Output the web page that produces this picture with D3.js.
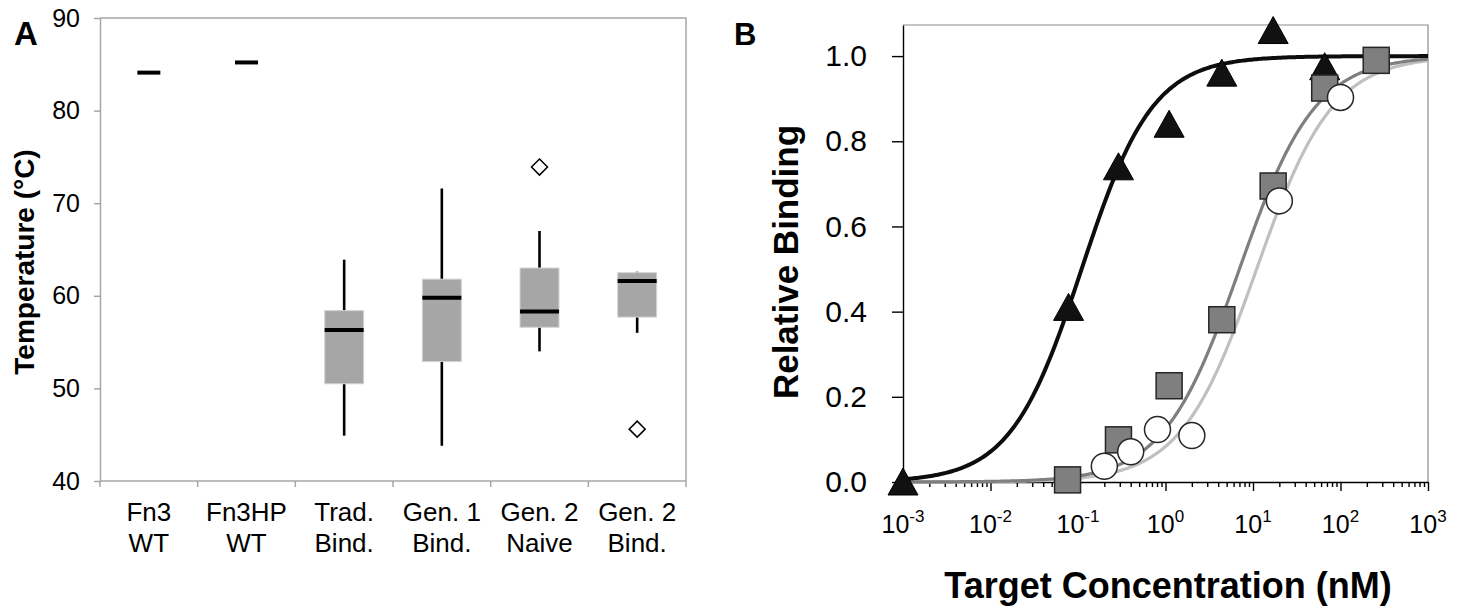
<!doctype html>
<meta charset="utf-8">
<title>Fn3 stability and binding</title>
<script src="https://cdn.jsdelivr.net/npm/d3@7"></script>
<style>
  body { margin: 0; background: #fff; }
  text { font-family: "Liberation Sans", Arial, sans-serif; fill: #000; }
</style>
<svg id="fig" width="1463" height="607"></svg>
<script>
  // ---- panel A: melting temperatures (box plots) ----
  const groups = [['Fn3', 'WT'], ['Fn3HP', 'WT'], ['Trad.', 'Bind.'], ['Gen. 1', 'Bind.'], ['Gen. 2', 'Naive'], ['Gen. 2', 'Bind.']]
  const whiskerLow = [null, null, 44.9, 43.8, 54.0, 56.0]
  const boxLow = [null, null, 50.5, 52.9, 56.6, 57.7]
  const medians = [84.1, 85.2, 56.3, 59.8, 58.3, 61.6]
  const boxHigh = [null, null, 58.4, 61.8, 63.0, 62.5]
  const whiskerHigh = [null, null, 63.9, 71.6, 67.0, 62.6]
  const outliers = [[], [], [], [], [73.9], [45.6]]
  const tempTicks = [40, 50, 60, 70, 80, 90]

  // ---- panel B: binding titration ----
  const triConc = [0.001, 0.078, 0.29, 1.1, 4.4, 17, 66]
  const triBind = [0.0, 0.41, 0.74, 0.84, 0.96, 1.06, 0.975]
  const sqConc = [0.076, 0.29, 1.1, 4.4, 17, 66, 256]
  const sqBind = [0.005, 0.099, 0.226, 0.381, 0.695, 0.925, 0.99]
  const circConc = [0.2, 0.4, 0.81, 2.0, 20, 100]
  const circBind = [0.037, 0.071, 0.123, 0.109, 0.66, 0.903]
  // fitted Hill curves: light gray, dark gray, black
  const fitK = [11, 7.0, 0.11]
  const fitN = [1.0, 1.0, 1.07]
  const fitColor = ['#c0c0c0', '#7f7f7f', '#0d0d0d']
  const bindTicks = [0, 0.2, 0.4, 0.6, 0.8, 1.0]
  const decades = [1e-3, 1e-2, 1e-1, 1e0, 1e1, 1e2, 1e3]

  const svg = d3.select('#fig')
  const axisGray = '#a6a6a6'

  // drop the font defaults d3.axis puts on its group (keep fill=none)
  function plain(g) {
    g.attr('font-family', null).attr('font-size', null)
  }

  // ===== panel A =====
  const xA = d3.scaleBand().domain(d3.range(groups.length)).range([100, 686])
  const yA = d3.scaleLinear().domain([40, 90]).range([481, 18])
  const A = svg.append('g')
  const bw = xA.bandwidth()
  const [ax0, ax1] = xA.range()

  // top / right frame
  A.append('path')
    .attr('d', `M${ax0},${yA(90)}H${ax1}V${yA(40)}`)
    .attr('fill', 'none').attr('stroke', axisGray).attr('stroke-width', 1.5)

  const yAxisA = A.append('g')
    .attr('transform', `translate(${ax0},0)`)
    .call(d3.axisLeft(yA).tickValues(tempTicks).tickSize(6).tickSizeOuter(0).tickPadding(14))
    .call(plain)
  yAxisA.select('.domain').attr('stroke', axisGray).attr('stroke-width', 1.5)
  yAxisA.selectAll('.tick line').attr('stroke', axisGray).attr('stroke-width', 1.5)
  yAxisA.selectAll('.tick text').attr('font-size', 25)

  // bottom axis with ticks at the band edges
  A.append('line')
    .attr('x1', ax0).attr('x2', ax1).attr('y1', yA(40)).attr('y2', yA(40))
    .attr('stroke', axisGray).attr('stroke-width', 1.5)
  A.selectAll('.xedge')
    .data(d3.range(groups.length + 1))
    .join('line')
    .attr('x1', (i) => ax0 + i * bw).attr('x2', (i) => ax0 + i * bw)
    .attr('y1', yA(40)).attr('y2', yA(40) + 6)
    .attr('stroke', axisGray).attr('stroke-width', 1.5)

  A.selectAll('.xlab')
    .data(groups)
    .join('text')
    .attr('text-anchor', 'middle')
    .attr('font-size', 26)
    .each(function (d, i) {
      const t = d3.select(this)
      d.forEach((line, k) => {
        t.append('tspan').attr('x', xA(i) + bw / 2).attr('y', 521 + k * 31).text(line)
      })
    })

  // boxes
  const boxW = 39
  groups.forEach((g, i) => {
    const cx = xA(i) + bw / 2
    if (boxLow[i] != null) {
      A.append('line')
        .attr('x1', cx).attr('x2', cx)
        .attr('y1', yA(whiskerHigh[i])).attr('y2', yA(whiskerLow[i]))
        .attr('stroke', '#000').attr('stroke-width', 2.6)
      A.append('rect')
        .attr('x', cx - boxW / 2).attr('width', boxW)
        .attr('y', yA(boxHigh[i])).attr('height', yA(boxLow[i]) - yA(boxHigh[i]))
        .attr('fill', '#a6a6a6').attr('stroke', '#d4d4d4').attr('stroke-width', 1)
    }
    const mw = boxLow[i] != null ? boxW : 23
    A.append('line')
      .attr('x1', cx - mw / 2).attr('x2', cx + mw / 2)
      .attr('y1', yA(medians[i])).attr('y2', yA(medians[i]))
      .attr('stroke', '#000').attr('stroke-width', 4)
    outliers[i].forEach((v) => {
      A.append('path')
        .attr('d', 'M0,-8L8,0L0,8L-8,0Z')
        .attr('transform', `translate(${cx},${yA(v)})`)
        .attr('fill', '#fff').attr('stroke', '#000').attr('stroke-width', 1.5)
    })
  })

  A.append('text')
    .attr('transform', `translate(34,262) rotate(-90)`)
    .attr('text-anchor', 'middle').attr('font-size', 28).attr('font-weight', 'bold')
    .text('Temperature (°C)')
  A.append('text').attr('x', 14).attr('y', 45)
    .attr('font-size', 33).attr('font-weight', 'bold').text('A')

  // ===== panel B =====
  const xB = d3.scaleLog().domain([1e-3, 1e3]).range([903, 1428])
  const yB = d3.scaleLinear().domain([0, 1.073]).range([482, 25])
  const B = svg.append('g')
  const [bx0, bx1] = xB.range()
  const [by0, by1] = yB.range()

  B.append('path')
    .attr('d', `M${bx0},${by1}H${bx1}V${by0}`)
    .attr('fill', 'none').attr('stroke', '#8c8c8c').attr('stroke-width', 1.2)

  const yAxisB = B.append('g')
    .attr('transform', `translate(${bx0},0)`)
    .call(d3.axisLeft(yB).tickValues(bindTicks).tickFormat(d3.format('.1f')).tickSize(11).tickSizeOuter(0).tickPadding(25))
    .call(plain)
  yAxisB.select('.domain').attr('stroke', '#000').attr('stroke-width', 1.4)
  yAxisB.selectAll('.tick line').attr('stroke', '#000').attr('stroke-width', 1.4)
  yAxisB.selectAll('.tick text')
    .attr('font-size', 30).attr('font-family', '"Open Sans", sans-serif')

  const minor = xB.ticks().filter((c) => !decades.some((d) => Math.abs(c / d - 1) < 1e-6))
  const xMinor = B.append('g')
    .attr('transform', `translate(0,${by0})`)
    .call(d3.axisBottom(xB).tickValues(minor).tickSize(5).tickSizeOuter(0).tickFormat(''))
    .call(plain)
  xMinor.select('.domain').remove()
  xMinor.selectAll('.tick line').attr('stroke', '#000').attr('stroke-width', 1.4)
  const xMajor = B.append('g')
    .attr('transform', `translate(0,${by0})`)
    .call(d3.axisBottom(xB).tickValues(decades).tickSize(9).tickSizeOuter(0).tickFormat(''))
    .call(plain)
  xMajor.select('.domain').attr('stroke', '#000').attr('stroke-width', 1.4)
  xMajor.selectAll('.tick line').attr('stroke', '#000').attr('stroke-width', 1.4)

  B.selectAll('.declab')
    .data(decades)
    .join('text')
    .attr('x', (d) => xB(d)).attr('y', 533)
    .attr('text-anchor', 'middle').attr('font-size', 25)
    .each(function (d) {
      const t = d3.select(this)
      t.append('tspan').text('10')
      t.append('tspan').attr('font-size', 17).attr('dy', -11).text(Math.round(Math.log10(d)))
    })

  // fitted curves
  const hill = (c, K, n) => 1 / (1 + Math.pow(K / c, n))
  const grid = d3.range(0, 301).map((i) => Math.pow(10, -3 + (i * 6) / 300))
  fitK.forEach((K, j) => {
    B.append('path')
      .datum(grid)
      .attr('fill', 'none')
      .attr('stroke', fitColor[j])
      .attr('stroke-width', j === 2 ? 4 : 3.2)
      .attr('d', d3.line().x((c) => xB(c)).y((c) => yB(hill(c, K, fitN[j]))))
  })

  // markers
  B.selectAll('.tri')
    .data(d3.zip(triConc, triBind))
    .join('path')
    .attr('d', 'M0,-14L15,13L-15,13Z')
    .attr('transform', (d) => `translate(${xB(d[0])},${yB(d[1])})`)
    .attr('fill', '#111').attr('stroke', '#000').attr('stroke-width', 1)
  B.selectAll('.sq')
    .data(d3.zip(sqConc, sqBind))
    .join('rect')
    .attr('x', (d) => xB(d[0]) - 13).attr('y', (d) => yB(d[1]) - 13)
    .attr('width', 26).attr('height', 26)
    .attr('fill', '#7f7f7f').attr('stroke', '#262626').attr('stroke-width', 1.5)
  B.selectAll('.circ')
    .data(d3.zip(circConc, circBind))
    .join('circle')
    .attr('cx', (d) => xB(d[0])).attr('cy', (d) => yB(d[1])).attr('r', 13)
    .attr('fill', '#fff').attr('stroke', '#262626').attr('stroke-width', 1.5)

  B.append('text')
    .attr('transform', `translate(798,262) rotate(-90)`)
    .attr('text-anchor', 'middle').attr('font-size', 35).attr('font-weight', 'bold')
    .text('Relative Binding')
  B.append('text')
    .attr('x', 1168).attr('y', 598)
    .attr('text-anchor', 'middle').attr('font-size', 36).attr('font-weight', 'bold')
    .text('Target Concentration (nM)')
  B.append('text').attr('x', 734).attr('y', 45)
    .attr('font-size', 31).attr('font-weight', 'bold').text('B')
</script>
